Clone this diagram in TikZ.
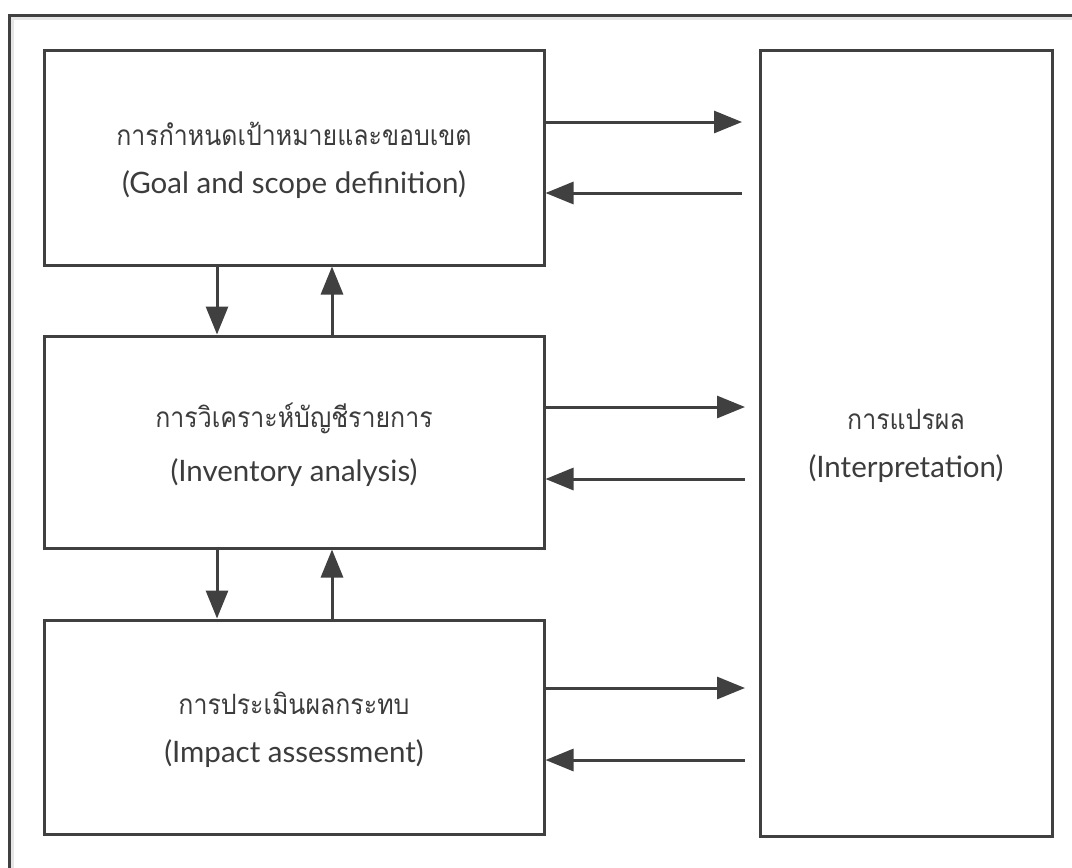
\documentclass[tikz,border=0pt]{standalone}
\usepackage{fontspec}
\newfontfamily\thaifont[Script=Thai]{Loma}
\newfontfamily\latfont{Lato}
\usetikzlibrary{arrows.meta}
\definecolor{ln}{HTML}{404040}
\definecolor{tx}{HTML}{3C3C3C}
\definecolor{shd}{HTML}{E6E6E6}
\newcommand{\thtxt}[1]{\scalebox{0.89}[1]{\thaifont\fontsize{28}{30}\selectfont #1}}
\newcommand{\latxt}[1]{{\latfont\fontsize{29.5}{36}\selectfont #1}}
\tikzset{
  box/.style={draw=ln, line width=3pt, fill=white, inner sep=0pt},
  lbl/.style={align=center, text=tx, inner sep=0pt, yshift=-3pt},
  arr/.style={draw=ln, line width=3pt, -{Triangle[length=28pt,width=22pt]}},
}
\begin{document}
\begin{tikzpicture}[x=1pt,y=-1pt]
\useasboundingbox (0,0) rectangle (1072,868);
\fill[white] (0,0) rectangle (1072,868);
\begin{scope}
\clip (0,0) rectangle (1072,868);
\draw[shd, line width=3pt] (12,18) rectangle (1090,890);
\draw[ln, line width=3pt] (9,15) rectangle (1090,890);
\end{scope}
\node[box, minimum width=500pt, minimum height=215pt] (g) at (294,157.5) {};
\node[box, minimum width=500pt, minimum height=212pt] (v) at (294,442) {};
\node[box, minimum width=500pt, minimum height=214pt] (m) at (294,727) {};
\node[box, minimum width=292pt, minimum height=786pt] (p) at (906,443) {};
\node[lbl] (gt) at (g.center)
  {\thtxt{การกำหนดเป้าหมายและขอบเขต}\\[24pt]\latxt{(Goal and scope definition)}};
\node[lbl] (vt) at (v.center)
  {\thtxt{การวิเคราะห์บัญชีรายการ}\\[24pt]\latxt{(Inventory analysis)}};
\node[lbl] (mt) at (m.center)
  {\thtxt{การประเมินผลกระทบ}\\[24pt]\latxt{(Impact assessment)}};
\node[lbl] (pt) at (p.center)
  {\thtxt{การแปรผล}\\[24pt]\latxt{(Interpretation)}};
\coordinate (r1) at (742,122);
\coordinate (l1) at (742,193);
\coordinate (r2) at (745,407);
\coordinate (l2) at (745,479);
\coordinate (r3) at (745,688);
\coordinate (l3) at (745,760);
\coordinate (dx) at (217,0);
\coordinate (ux) at (332,0);
\draw[arr] (g.east |- r1) -- (r1);
\draw[arr] (l1) -- (g.east |- l1);
\draw[arr] (v.east |- r2) -- (r2);
\draw[arr] (l2) -- (v.east |- l2);
\draw[arr] (m.east |- r3) -- (r3);
\draw[arr] (l3) -- (m.east |- l3);
\draw[arr] (g.south -| dx) -- (v.north -| dx);
\draw[arr] (v.north -| ux) -- (g.south -| ux);
\draw[arr] (v.south -| dx) -- (m.north -| dx);
\draw[arr] (m.north -| ux) -- (v.south -| ux);
\end{tikzpicture}
\end{document}
